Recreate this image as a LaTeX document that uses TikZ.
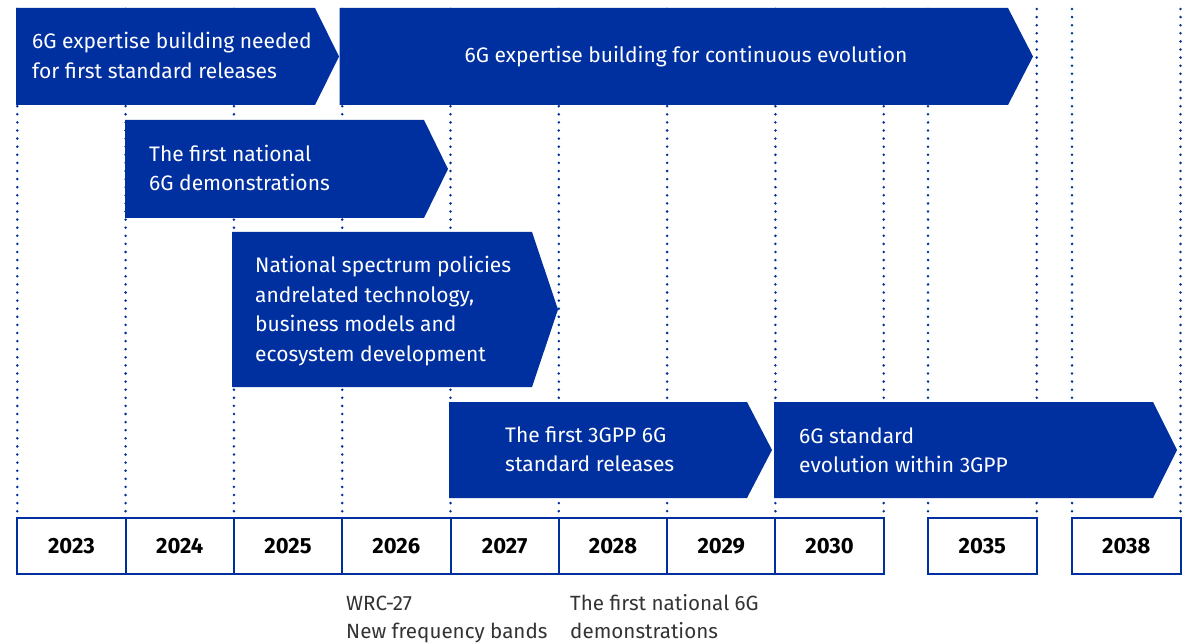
\documentclass[tikz,border=0pt]{standalone}
\usepackage{fontspec}
\setmainfont{Fira Sans}
\definecolor{eublue}{HTML}{0030A0}
\definecolor{txtgrey}{HTML}{333333}
\newcommand\chevronfill[5]{% left, top, bottom, shoulder, tip
  \fill[eublue] (#1,#2) -- (#4,#2) -- (#5,{(#2+#3)/2}) -- (#4,#3) -- (#1,#3) -- cycle;}
\begin{document}
\begin{tikzpicture}[x=1pt,y=-1pt,
 arrowtext/.style={text=white, font=\fontsize{21}{29.5}\selectfont, align=left, anchor=west, inner sep=0pt},
 vline/.style={eublue, line width=2.8pt, line cap=round, dash pattern=on 0pt off 8.1pt},
 yearbox/.style={draw=eublue, line width=2pt, minimum height=56pt, inner sep=0pt, font=\bfseries\fontsize{22}{24}\selectfont},
 note/.style={text=txtgrey, font=\fontsize{20.6}{28}\selectfont, anchor=base west, inner sep=0pt}]
\useasboundingbox (0,0) rectangle (1191,644);
% dotted guide lines
\foreach \xx in {17.3,125.6,233.9,342.2,450.5,558.8,667.1,775.4,883.7,928,1036.7,1072,1180.5}
  \draw[vline] (\xx,9) -- (\xx,517);
% chevrons
\chevronfill{16}{8}{105}{315}{339}
\chevronfill{339.5}{8}{105}{1008}{1033}
\chevronfill{125}{120}{218}{424}{448}
\chevronfill{232}{232}{387}{532}{558}
\chevronfill{449}{402}{498}{747}{772}
\chevronfill{774}{402}{498}{1153}{1177}
% chevron texts
\node[arrowtext] (t1) at (32,55.5) {6G expertise building needed\\for first standard releases};
\node[arrowtext, anchor=center] (t2) at (686,57) {6G expertise building for continuous evolution};
\node[arrowtext] (t3) at (149,168) {The first national\\6G demonstrations};
\node[arrowtext] (t4) at (255,311) {National spectrum policies\\andrelated technology,\\business models and\\ecosystem development};
\node[arrowtext] (t5) at (505,449) {The first 3GPP 6G\\standard releases};
\node[arrowtext] (t6) at (799,450) {6G standard\\evolution within 3GPP};
% year boxes
\foreach \yr [count=\k from 0] in {2023,2024,2025,2026,2027,2028,2029,2030}
  \node[yearbox, minimum width=108.3pt] (y\yr) at ({17.3+108.3*\k+54.15},546) {\yr};
\node[yearbox, minimum width=108.7pt] (y2035) at (982.35,546) {2035};
\node[yearbox, minimum width=108.5pt] (y2038) at (1126.25,546) {2038};
% notes
\node[note] (n1) at (346,610) {WRC-27};
\node[note] (n2) at (346,638) {New frequency bands};
\node[note] (n3) at (570,610) {The first national 6G};
\node[note] (n4) at (570,638) {demonstrations};
\end{tikzpicture}
\end{document}
